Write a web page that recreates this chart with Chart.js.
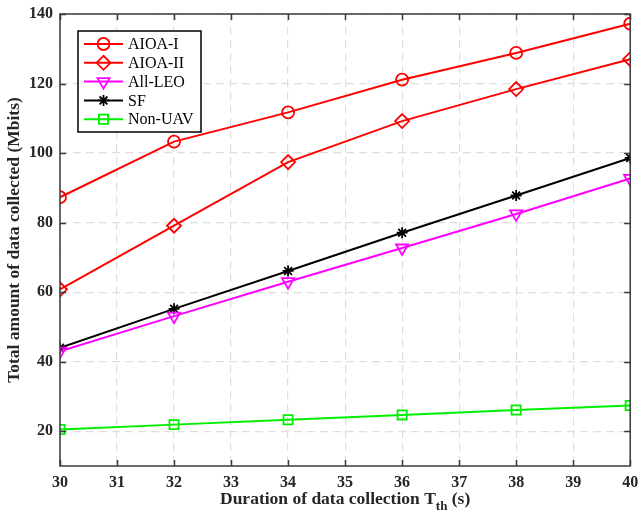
<!DOCTYPE html>
<html><head><meta charset="utf-8">
<script src="https://cdn.jsdelivr.net/npm/chart.js@4/dist/chart.umd.min.js"></script>
<style>html,body{margin:0;padding:0;background:#fff;overflow:hidden;}</style>
</head><body>
<canvas id="c" width="639" height="517"></canvas>
<script>
const xValues = [30, 32, 34, 36, 38, 40];
const xTickValues = [30, 31, 32, 33, 34, 35, 36, 37, 38, 39, 40];
const yTickValues = [20, 40, 60, 80, 100, 120, 140];
const seriesNames = ['AIOA-I', 'AIOA-II', 'All-LEO', 'SF', 'Non-UAV'];
const aioa1 = [87.3, 103.3, 111.7, 121.1, 128.8, 137.2];
const aioa2 = [60.8, 79.1, 97.4, 109.2, 118.4, 127.0];
const allLeo = [43.0, 53.1, 63.0, 72.7, 82.5, 92.7];
const sf = [44.0, 55.2, 66.1, 77.1, 87.8, 98.6];
const nonUav = [20.5, 21.9, 23.3, 24.7, 26.1, 27.4];
const xTitleMain = 'Duration of data collection T';
const xTitleSub = 'th';
const xTitleTail = ' (s)';
const yTitle = 'Total amount of data collected (Mbits)';

const FONT = '"Liberation Serif", "Times New Roman", serif';
const seriesValues = [aioa1, aioa2, allLeo, sf, nonUav];
const styles = [
  {color: '#ff0000', pointStyle: 'circle', radius: 6, rotation: 0},
  {color: '#ff0000', pointStyle: 'rectRot', radius: 7, rotation: 0},
  {color: '#ff00ff', pointStyle: 'triangle', radius: 7, rotation: 180},
  {color: '#000000', pointStyle: 'star', radius: 5.5, rotation: 0},
  {color: '#00ee00', pointStyle: 'rect', radius: 6.5, rotation: 0}
];

const datasets = seriesNames.map((name, i) => ({
  label: name,
  data: xValues.map((x, j) => ({x: x, y: seriesValues[i][j]})),
  borderColor: styles[i].color,
  backgroundColor: 'rgba(0,0,0,0)',
  borderWidth: 2,
  tension: 0,
  pointStyle: styles[i].pointStyle,
  pointRadius: styles[i].radius,
  pointRotation: styles[i].rotation,
  pointBorderColor: styles[i].color,
  pointBackgroundColor: 'rgba(0,0,0,0)',
  pointBorderWidth: 1.8,
  pointHoverRadius: styles[i].radius
}));

const GRID = '#dedede';
const AXIS = '#3a3a3a';

const framePlugin = {
  id: 'frame',
  afterDraw(chart) {
    const ctx = chart.ctx;
    const a = chart.chartArea;
    const xs = chart.scales.x, ys = chart.scales.y;
    ctx.save();
    ctx.setLineDash([]);
    ctx.strokeStyle = AXIS;
    ctx.lineWidth = 1.5;
    const tl = 6;
    ctx.beginPath();
    xTickValues.forEach(v => {
      const px = Math.round(xs.getPixelForValue(v)) + 0.5;
      ctx.moveTo(px, a.bottom); ctx.lineTo(px, a.bottom - tl);
      ctx.moveTo(px, a.top); ctx.lineTo(px, a.top + tl);
    });
    yTickValues.forEach(v => {
      const py = Math.round(ys.getPixelForValue(v)) + 0.5;
      ctx.moveTo(a.left, py); ctx.lineTo(a.left + tl, py);
      ctx.moveTo(a.right, py); ctx.lineTo(a.right - tl, py);
    });
    ctx.stroke();
    ctx.strokeRect(a.left, a.top, a.right - a.left, a.bottom - a.top);

    // x title with subscript
    ctx.fillStyle = '#262626';
    ctx.textBaseline = 'middle';
    ctx.textAlign = 'left';
    const mainFont = 'bold 17.5px ' + FONT;
    const subFont = 'bold 13px ' + FONT;
    ctx.font = mainFont;
    const w1 = ctx.measureText(xTitleMain).width;
    const w3 = ctx.measureText(xTitleTail).width;
    ctx.font = subFont;
    const w2 = ctx.measureText(xTitleSub).width;
    const total = w1 + w2 + w3;
    let x0 = (a.left + a.right) / 2 - total / 2;
    const ty = 499;
    ctx.font = mainFont;
    ctx.fillText(xTitleMain, x0, ty);
    ctx.font = subFont;
    ctx.fillText(xTitleSub, x0 + w1, ty + 8);
    ctx.font = mainFont;
    ctx.fillText(xTitleTail, x0 + w1 + w2, ty);

    // legend
    const lx = a.left + 18, ly = a.top + 17, lw = 123, lh = 101;
    ctx.fillStyle = '#ffffff';
    ctx.fillRect(lx, ly, lw, lh);
    ctx.strokeStyle = '#000000';
    ctx.lineWidth = 1.5;
    ctx.strokeRect(lx, ly, lw, lh);
    chart.data.datasets.forEach((ds, i) => {
      const cy = ly + 13 + i * 18.8;
      ctx.strokeStyle = ds.borderColor;
      ctx.lineWidth = 2;
      ctx.beginPath();
      ctx.moveTo(lx + 6, cy); ctx.lineTo(lx + 45, cy);
      ctx.stroke();
      ctx.lineWidth = 1.8;
      ctx.fillStyle = 'rgba(0,0,0,0)';
      Chart.helpers.drawPoint(ctx, {pointStyle: ds.pointStyle, radius: ds.pointRadius, rotation: ds.pointRotation, borderWidth: 1.8}, lx + 25.5, cy);
      ctx.fillStyle = '#000000';
      ctx.font = '16px ' + FONT;
      ctx.textAlign = 'left';
      ctx.textBaseline = 'middle';
      ctx.fillText(ds.label, lx + 50, cy + 1);
    });
    ctx.restore();
  }
};

new Chart(document.getElementById('c'), {
  type: 'line',
  data: {datasets: datasets},
  plugins: [framePlugin],
  options: {
    responsive: false,
    devicePixelRatio: 1,
    animation: false,
    layout: {padding: {top: 14, right: 7, left: 0, bottom: 0}},
    plugins: {legend: {display: false}, tooltip: {enabled: false}},
    scales: {
      x: {
        type: 'linear', min: 30, max: 40,
        afterBuildTicks: s => { s.ticks = xTickValues.map(v => ({value: v})); },
        afterFit: s => { s.height = 51; s.paddingLeft = 0; s.paddingRight = 0; },
        ticks: {color: '#262626', font: {family: FONT, size: 16, weight: 'bold'}, padding: 7, maxRotation: 0, autoSkip: false},
        grid: {color: GRID, lineWidth: 1.2, drawTicks: false},
        border: {display: false, dash: [8, 5]}
      },
      y: {
        type: 'linear', min: 10, max: 140,
        afterBuildTicks: s => { s.ticks = yTickValues.map(v => ({value: v})); },
        afterFit: s => { s.width = 60; s.paddingTop = 0; s.paddingBottom = 0; },
        ticks: {color: '#262626', font: {family: FONT, size: 16, weight: 'bold'}, padding: 7},
        grid: {color: GRID, lineWidth: 1.2, drawTicks: false},
        border: {display: false, dash: [8, 5]},
        title: {display: true, text: yTitle, color: '#262626', font: {family: FONT, size: 17.5, weight: 'bold'}, padding: {top: 4, bottom: 0}}
      }
    }
  }
});
</script>
</body></html>
